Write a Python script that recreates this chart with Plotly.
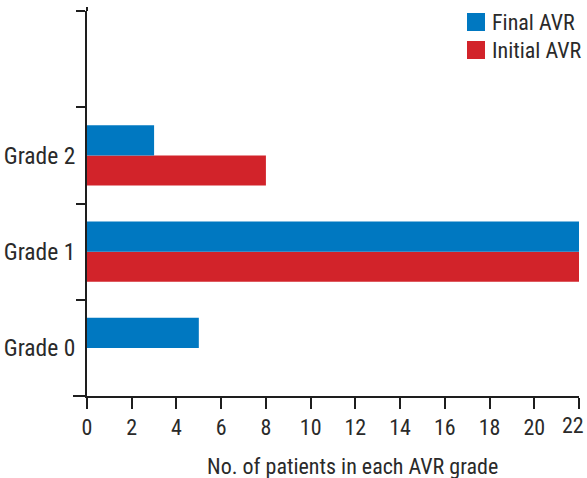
import plotly.graph_objects as go

categories = ["Grade 0", "Grade 1", "Grade 2", " "]
final_avr = [5, 22, 3, 0]
initial_avr = [0, 22, 8, 0]
x_ticks = list(range(0, 23, 2))
x_tick_labels = [str(v) for v in x_ticks]
series_names = ["Final AVR", "Initial AVR"]
series_colors = ["#0078c1", "#d2232a"]
x_title = "No. of patients in each AVR grade"

FONT = "Liberation Sans Narrow, Roboto Condensed, Arial Narrow, sans-serif"
TXT = "#2a2a2a"
AX = "#1e1e1e"

W, H = 587, 478
L, R, T, B = 87, 8, 11, 82
pw, ph = W - L - R, H - T - B

fig = go.Figure()
fig.add_trace(go.Bar(y=categories, x=initial_avr, orientation="h", name=series_names[1],
                     marker=dict(color=series_colors[1], line=dict(width=0))))
fig.add_trace(go.Bar(y=categories, x=final_avr, orientation="h", name=series_names[0],
                     marker=dict(color=series_colors[0], line=dict(width=0))))

fig.update_layout(
    width=W, height=H,
    margin=dict(l=L, r=R, t=T, b=B, autoexpand=False),
    paper_bgcolor="white", plot_bgcolor="white",
    barmode="group", bargap=0.375, bargroupgap=0,
    font=dict(family=FONT, size=22, color=TXT),
    showlegend=False,
)
# last tick label is drawn separately, pulled inside the page edge as in the reference
shown_labels = x_tick_labels[:-1] + [""]
fig.update_xaxes(range=[0, 22], tickvals=x_ticks, ticktext=shown_labels, ticks="outside",
                 ticklen=11, tickwidth=2, tickcolor=AX, showline=True, linecolor=AX,
                 linewidth=2, showgrid=False, zeroline=False, automargin=False,
                 ticklabeloverflow="allow")
fig.add_annotation(xref="paper", yref="paper", x=(586 - L) / pw, y=1 - (425.5 - T) / ph,
                   text=x_tick_labels[-1], showarrow=False, xanchor="right", yanchor="middle",
                   font=dict(size=22, color=TXT))
fig.update_yaxes(type="category", categoryorder="array", categoryarray=categories,
                 range=[-0.5, 3.5], tickson="boundaries", ticks="outside", ticklen=9,
                 tickwidth=2, tickcolor=AX, showline=True, linecolor=AX,
                 linewidth=2, showgrid=False, zeroline=False, automargin=False,
                 ticklabelstandoff=5, tickfont=dict(size=23.5), ticklabeloverflow="allow")
# x axis line extends left past the y axis; y axis line extends slightly above top
fig.add_shape(type="line", xref="paper", yref="paper", x0=-14 / pw, x1=0, y0=0, y1=0,
              line=dict(color=AX, width=2))
fig.add_shape(type="line", xref="paper", yref="paper", x0=0, x1=0, y0=1, y1=1 + 4 / ph,
              line=dict(color=AX, width=2))

# x axis title (offset right as in the reference)
fig.add_annotation(xref="paper", yref="paper", x=(352 - L) / pw, y=1 - (466 - T) / ph,
                   text=x_title, showarrow=False, xanchor="center", yanchor="middle",
                   font=dict(size=22, color=TXT))

# manual legend
for i, (name, col) in enumerate(zip(series_names, series_colors)):
    top = 13 + 28 * i
    y0 = 1 - (top + 18 - T) / ph
    y1 = 1 - (top - T) / ph
    fig.add_shape(type="rect", xref="paper", yref="paper",
                  x0=(467 - L) / pw, x1=(485 - L) / pw, y0=y0, y1=y1,
                  fillcolor=col, line=dict(width=0))
    fig.add_annotation(xref="paper", yref="paper", x=(490 - L) / pw, y=(y0 + y1) / 2,
                       text=name, showarrow=False, xanchor="left", yanchor="middle",
                       font=dict(size=22, color=TXT))
fig.write_html("out.html", config={"displayModeBar": False},
               post_script="document.body.style.margin='0';document.body.style.overflow='hidden';")
